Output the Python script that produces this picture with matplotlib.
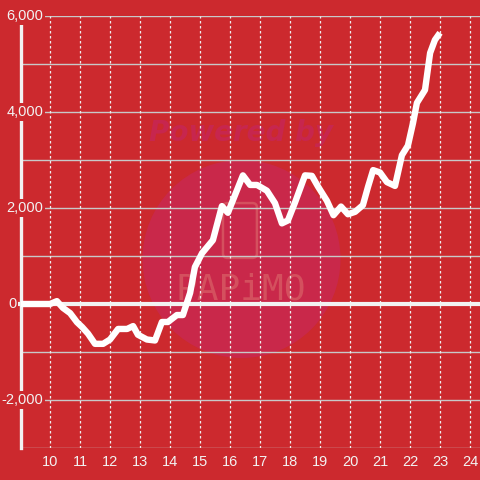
import matplotlib.pyplot as plt
from matplotlib.patches import Ellipse, FancyBboxPatch

# hour of day vs cumulative value
hours = [9.0, 10.0, 10.23, 10.43, 10.67, 10.9, 11.07, 11.27, 11.5, 11.77,
         12.0, 12.27, 12.57, 12.77, 12.93, 13.23, 13.5, 13.73, 13.93, 14.23,
         14.43, 14.67, 14.83, 15.07, 15.43, 15.73, 15.93, 16.43, 16.67, 16.9,
         17.23, 17.5, 17.73, 17.93, 18.17, 18.5, 18.73, 18.93, 19.23, 19.45,
         19.7, 19.93, 20.17, 20.43, 20.6, 20.77, 21.0, 21.23, 21.5, 21.73,
         21.93, 22.1, 22.23, 22.5, 22.67, 22.83, 23.0]
values = [0, 0, 60, -80, -190, -380, -480, -620, -830, -830,
          -740, -520, -520, -460, -640, -740, -760, -375, -375, -230,
          -230, 230, 770, 1060, 1330, 2040, 1900, 2680, 2480, 2480,
          2360, 2100, 1680, 1740, 2120, 2680, 2670, 2450, 2150, 1850,
          2030, 1870, 1920, 2060, 2440, 2790, 2740, 2540, 2460, 3100,
          3300, 3770, 4190, 4460, 5230, 5500, 5650]

x_ticks = list(range(10, 25))
y_grid = list(range(-3000, 6001, 1000))
y_labels = {6000: "6,000", 4000: "4,000", 2000: "2,000", 0: "0", -2000: "-2,000"}

bg = "#cc292e"
fg = "#f2f2f2"

fig = plt.figure(figsize=(4.8, 4.8), dpi=100, facecolor=bg)
ax = fig.add_axes([21 / 480, 32 / 480, 459 / 480, 432 / 480])
ax.set_facecolor(bg)
ax.set_xlim(9.0333, 24.333)
ax.set_ylim(-3000, 6000)

# watermark
ax.add_patch(Ellipse((0.4804, 0.4375), 2 * 99 / 459, 2 * 99 / 432, transform=ax.transAxes,
                     facecolor="#c9284a", edgecolor="none", zorder=0.5))
ax.text(0.479, 0.729, "Powered by", transform=ax.transAxes, ha="center", va="center",
        fontsize=20, fontweight="bold", fontstyle="italic", color="#c7264e", zorder=0.6)
ax.add_patch(FancyBboxPatch((0.44, 0.44), 0.074, 0.127, boxstyle="round,pad=0,rounding_size=0.01",
                            transform=ax.transAxes, facecolor="none", edgecolor="#d4505e",
                            linewidth=1.8, zorder=0.6))
ax.text(0.479, 0.368, "PAPiMO", transform=ax.transAxes, ha="center", va="center",
        fontsize=26, family="DejaVu Sans Mono", color="#d4505e", zorder=0.6)

# grid
for v in y_grid:
    ax.axhline(v, color="#c8c8c8", linewidth=1, zorder=1)
for h in x_ticks:
    ax.axvline(h, color="#eeeeee", linewidth=0.9, linestyle=(0, (2, 2)), zorder=1)
ax.axhline(0, xmin=-4 / 459, xmax=1, color=fg, linewidth=3, zorder=2, clip_on=False)

ax.plot(hours, values, color="white", linewidth=4.6, solid_joinstyle="round",
        solid_capstyle="butt", zorder=3)

for spine in ["top", "right", "bottom"]:
    ax.spines[spine].set_visible(False)
ax.spines["left"].set_color(fg)
ax.spines["left"].set_linewidth(2.4)
ax.spines["left"].set_zorder(2.5)

ax.set_yticks([])
ax.set_xticks(x_ticks)
ax.set_xticklabels([str(h) for h in x_ticks], color=fg, fontsize=10.5, family="Liberation Sans")
ax.tick_params(axis="x", length=0, pad=5)

for v, lab in y_labels.items():
    if v == 0:
        xpos = -0.0105
    else:
        xpos = 0.048
    ax.text(xpos, v, lab, transform=ax.get_yaxis_transform(), ha="right", va="center",
            color=fg, fontsize=10.5, family="Liberation Sans", zorder=4, clip_on=False,
            bbox=dict(facecolor=bg, edgecolor="none", pad=1.5))

fig.savefig("out.png", dpi=100, facecolor=bg)
